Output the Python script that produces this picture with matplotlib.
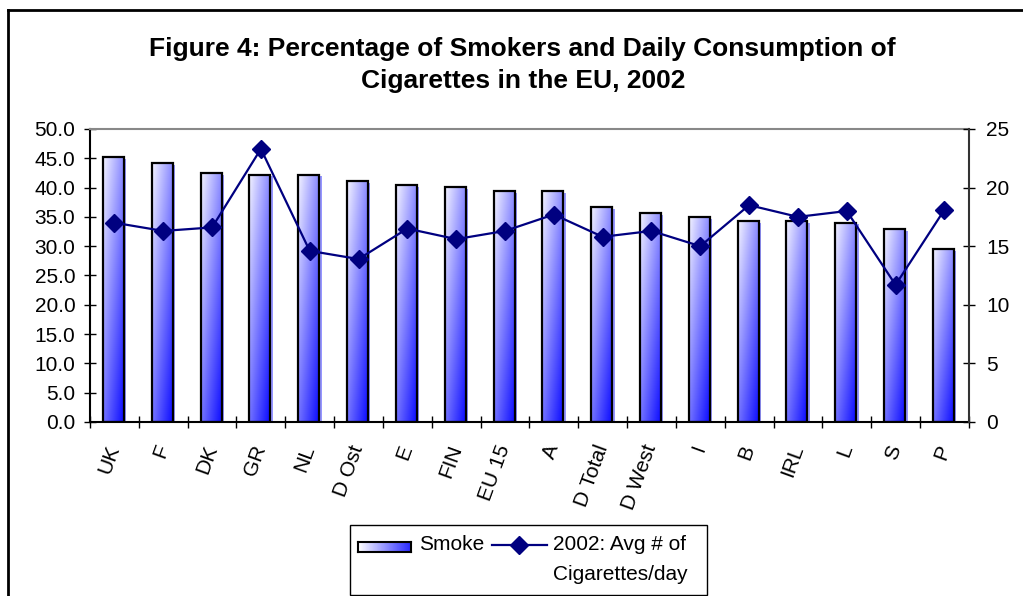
import numpy as np
import matplotlib
matplotlib.use("Agg")
import matplotlib.pyplot as plt
from matplotlib.lines import Line2D
from matplotlib.patches import Rectangle

plt.rcParams["font.family"] = ["Liberation Sans", "DejaVu Sans"]

countries = ["UK", "F", "DK", "GR", "NL", "D Ost", "E", "FIN", "EU 15", "A",
             "D Total", "D West", "I", "B", "IRL", "L", "S", "P"]
smoke = [45.2, 44.2, 42.5, 42.2, 42.2, 41.1, 40.4, 40.1, 39.4, 39.4,
         36.7, 35.7, 35.0, 34.3, 34.3, 34.0, 32.9, 29.5]
cigs_per_day = [17.0, 16.3, 16.6, 23.3, 14.6, 13.9, 16.5, 15.6, 16.3, 17.7,
                15.8, 16.3, 15.0, 18.5, 17.5, 18.0, 11.7, 18.1]

fig = plt.figure(figsize=(10.23, 5.96), dpi=100)
ax = fig.add_axes([0.088, 0.292, 0.859, 0.4916])

x = np.arange(len(countries))
width = 0.43

# gradient image: white at top-left, blue towards bottom-right
gx, gy = np.meshgrid(np.linspace(0, 1, 40), np.linspace(0, 1, 80))
t = np.clip(0.05 + 0.4 * gx + 0.5 * gy, 0, 1)
grad = np.dstack([1 - t, 1 - t, np.ones_like(t)])

for xi, h in zip(x, smoke):
    x0 = xi - width / 2 - 0.02
    # soft blue shadow on the right
    ax.add_patch(Rectangle((x0 + 0.05, 0), width, h - 0.3, facecolor="#6a6aff",
                           edgecolor="none", alpha=0.7, zorder=1))
    ax.imshow(grad, extent=[x0, x0 + width, 0, h], origin="upper",
              aspect="auto", zorder=2, interpolation="bilinear")
    ax.add_patch(Rectangle((x0, 0), width, h, facecolor="none",
                           edgecolor="black", lw=1.6, zorder=3))

ax.set_xlim(-0.5, len(countries) - 0.5)
ax.set_ylim(0, 50)
ax.set_yticks(np.arange(0, 51, 5))
ax.set_yticklabels([f"{v:.1f}" for v in np.arange(0, 51, 5)], fontsize=15)
ax.set_xticks(x)
ax.set_xticklabels(countries, fontsize=15, rotation=70, ha="right",
                   va="center", rotation_mode="anchor")
ax.set_xticks(np.arange(-0.5, len(countries), 1), minor=True)
ax.tick_params(axis="x", which="major", length=0, pad=17)
ax.tick_params(axis="x", which="minor", direction="inout", length=9, width=1)
ax.tick_params(axis="y", direction="inout", length=9, width=1, pad=6)
ax.spines["top"].set_color("#888888")
ax.spines["top"].set_linewidth(1.5)
ax.spines["left"].set_linewidth(1.5)
ax.spines["bottom"].set_linewidth(1.5)
ax.spines["right"].set_visible(False)

ax2 = ax.twinx()
ax2.plot(x, cigs_per_day, color="#000080", lw=1.6, marker="D", markersize=9.5)
ax2.set_ylim(0, 25)
ax2.set_yticks(np.arange(0, 26, 5))
ax2.tick_params(axis="y", direction="inout", length=9, width=1, labelsize=15, pad=8)
ax2.spines["right"].set_color("#333333")
ax2.spines["right"].set_linewidth(1.5)
for s in ["top", "left", "bottom"]:
    ax2.spines[s].set_visible(False)

fig.text(0.511, 0.891,
         "Figure 4: Percentage of Smokers and Daily Consumption of\nCigarettes in the EU, 2002",
         ha="center", va="center", fontsize=19, fontweight="bold", linespacing=1.42)

# legend drawn by hand so the marker row lines up with the first text line
fig.add_artist(Rectangle((350 / 1023, 1 - 595 / 596), 357 / 1023, 70 / 596,
                         transform=fig.transFigure, facecolor="white",
                         edgecolor="black", lw=1, zorder=1))
lax = fig.add_axes([358 / 1023, 1 - 552 / 596, 53 / 1023, 10 / 596])
lax.set_zorder(5)
hgrad = np.dstack([1 - gx[:10] * 0.85, 1 - gx[:10] * 0.85, np.ones_like(gx[:10])])
lax.imshow(hgrad, aspect="auto", extent=[0, 1, 0, 1])
lax.set_xticks([])
lax.set_yticks([])
for s in lax.spines.values():
    s.set_linewidth(1.5)
fig.text(419 / 1023, 1 - 545 / 596, "Smoke", fontsize=15, va="center", ha="left")
fig.add_artist(Line2D([492 / 1023, 547 / 1023], [1 - 545 / 596] * 2,
                      transform=fig.transFigure, color="#000080", lw=1.6, zorder=3))
fig.add_artist(Line2D([519 / 1023], [1 - 545 / 596], transform=fig.transFigure,
                      color="#000080", marker="D", markersize=9.5, zorder=3))
fig.text(553 / 1023, 1 - 545 / 596, "2002: Avg # of", fontsize=15, va="center", ha="left")
fig.text(553 / 1023, 1 - 574 / 596, "Cigarettes/day", fontsize=15, va="center", ha="left")

fig.add_artist(Line2D([0.008, 0.008], [0, 0.983], transform=fig.transFigure,
                      color="black", lw=2))
fig.add_artist(Line2D([0.008, 1.0], [0.983, 0.983], transform=fig.transFigure,
                      color="black", lw=2))

fig.savefig("out.png", dpi=100)
